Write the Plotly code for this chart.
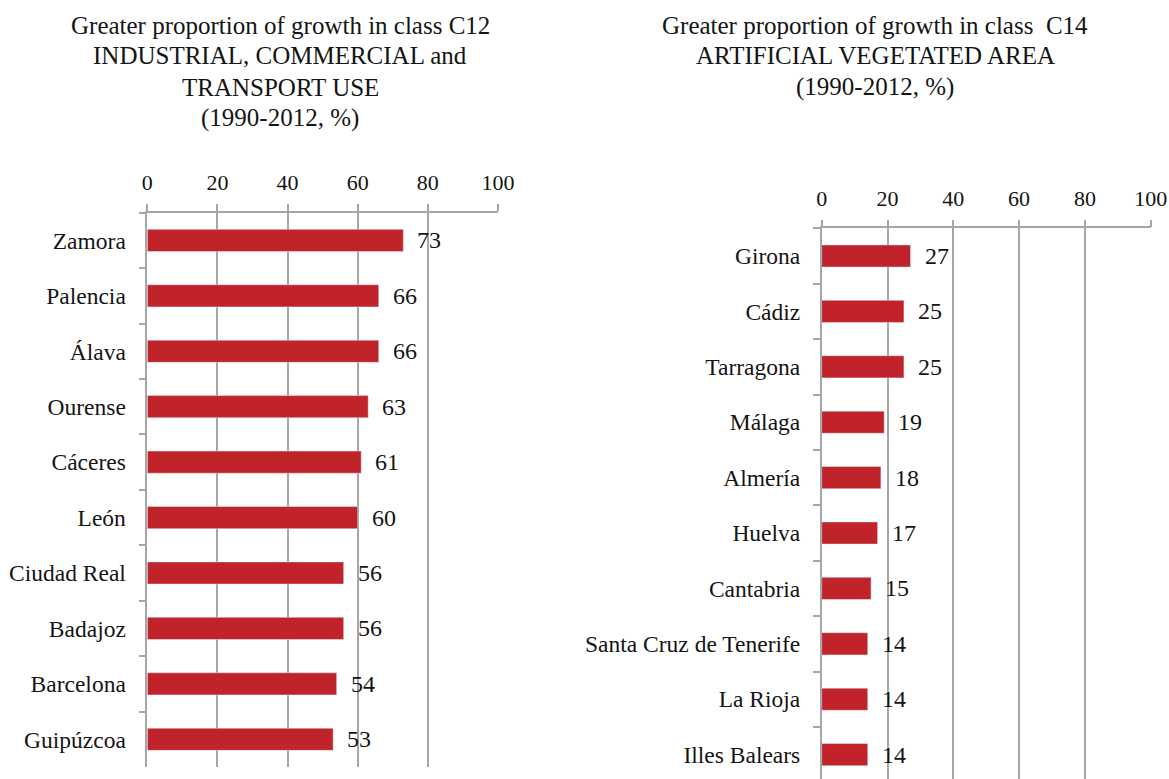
import plotly.graph_objects as go
from plotly.subplots import make_subplots

# Provinces with the largest share of growth in each land-cover class (1990-2012, %)
c12_provinces = ["Zamora", "Palencia", "Álava", "Ourense", "Cáceres", "León",
                 "Ciudad Real", "Badajoz", "Barcelona", "Guipúzcoa"]
c12_values = [73, 66, 66, 63, 61, 60, 56, 56, 54, 53]

c14_provinces = ["Girona", "Cádiz", "Tarragona", "Málaga", "Almería", "Huelva",
                 "Cantabria", "Santa Cruz de Tenerife", "La Rioja", "Illes Balears"]
c14_values = [27, 25, 25, 19, 18, 17, 15, 14, 14, 14]

c12_title = ["Greater proportion of growth in class C12",
             "INDUSTRIAL, COMMERCIAL and",
             "TRANSPORT USE",
             "(1990-2012, %)"]
c14_title = ["Greater proportion of growth in class  C14",
             "ARTIFICIAL VEGETATED AREA",
             "(1990-2012, %)"]

W, H = 1169, 779
FONT = "'Liberation Serif', 'Times New Roman', Times, serif"
TXT = "#141414"
BAR = "#C1232A"
GRID = "#a6a6a6"

fig = make_subplots(rows=1, cols=2)

fig.add_trace(go.Bar(x=c12_values, y=c12_provinces, orientation="h",
                     marker_color=BAR, width=0.4), row=1, col=1)
fig.add_trace(go.Bar(x=c14_values, y=c14_provinces, orientation="h",
                     marker_color=BAR, width=0.4), row=1, col=2)

xaxis_style = dict(side="top", range=[0, 100], dtick=20, showgrid=True,
                   gridcolor=GRID, gridwidth=1.5, showline=True, linecolor=GRID,
                   linewidth=1.5, ticks="outside", ticklen=7, tickcolor=GRID,
                   tickwidth=1.5, zeroline=False, ticklabelstandoff=5,
                   automargin=False,
                   tickfont=dict(family=FONT, size=22, color=TXT))
yaxis_style = dict(type="category", showline=True, linecolor=GRID, linewidth=1.5,
                   ticks="outside", tickson="boundaries", ticklen=7, tickcolor=GRID,
                   tickwidth=1.5, showgrid=False, ticklabelstandoff=15,
                   automargin=False,
                   tickfont=dict(family=FONT, size=23.5, color=TXT))

def px_x(p):
    return p / W

def px_y(p):
    return 1 - p / H

fig.update_xaxes(**xaxis_style)
fig.update_yaxes(**yaxis_style)
fig.update_layout(
    xaxis=dict(domain=[px_x(147.3), px_x(498)]),
    xaxis2=dict(domain=[px_x(821.7), px_x(1150.7)]),
    yaxis=dict(domain=[px_y(767), px_y(212.7)], range=[9.5, -0.5],
               categoryorder="array", categoryarray=c12_provinces),
    yaxis2=dict(domain=[0, px_y(228.3)], range=[9.44, -0.5],
                categoryorder="array", categoryarray=c14_provinces),
)

# value labels next to each bar
annotations = []
for xr, yr, provs, vals in (("x", "y", c12_provinces, c12_values),
                            ("x2", "y2", c14_provinces, c14_values)):
    for p, v in zip(provs, vals):
        annotations.append(dict(x=v, y=p, xref=xr, yref=yr, text=str(v),
                                showarrow=False, xanchor="left", xshift=12,
                                font=dict(family=FONT, size=24, color=TXT)))

# chart titles, one annotation per line
for cx, lines in ((280, c12_title), (875, c14_title)):
    for i, line in enumerate(lines):
        annotations.append(dict(x=px_x(cx), y=px_y(25 + 31 * i), xref="paper",
                                yref="paper", text=line, showarrow=False,
                                xanchor="center", yanchor="middle",
                                font=dict(family=FONT, size=25, color=TXT)))

fig.update_layout(width=W, height=H, margin=dict(l=0, r=0, t=0, b=0),
                  paper_bgcolor="white", plot_bgcolor="white",
                  showlegend=False, bargap=0.6, annotations=annotations)

fig.write_html("out.html")
